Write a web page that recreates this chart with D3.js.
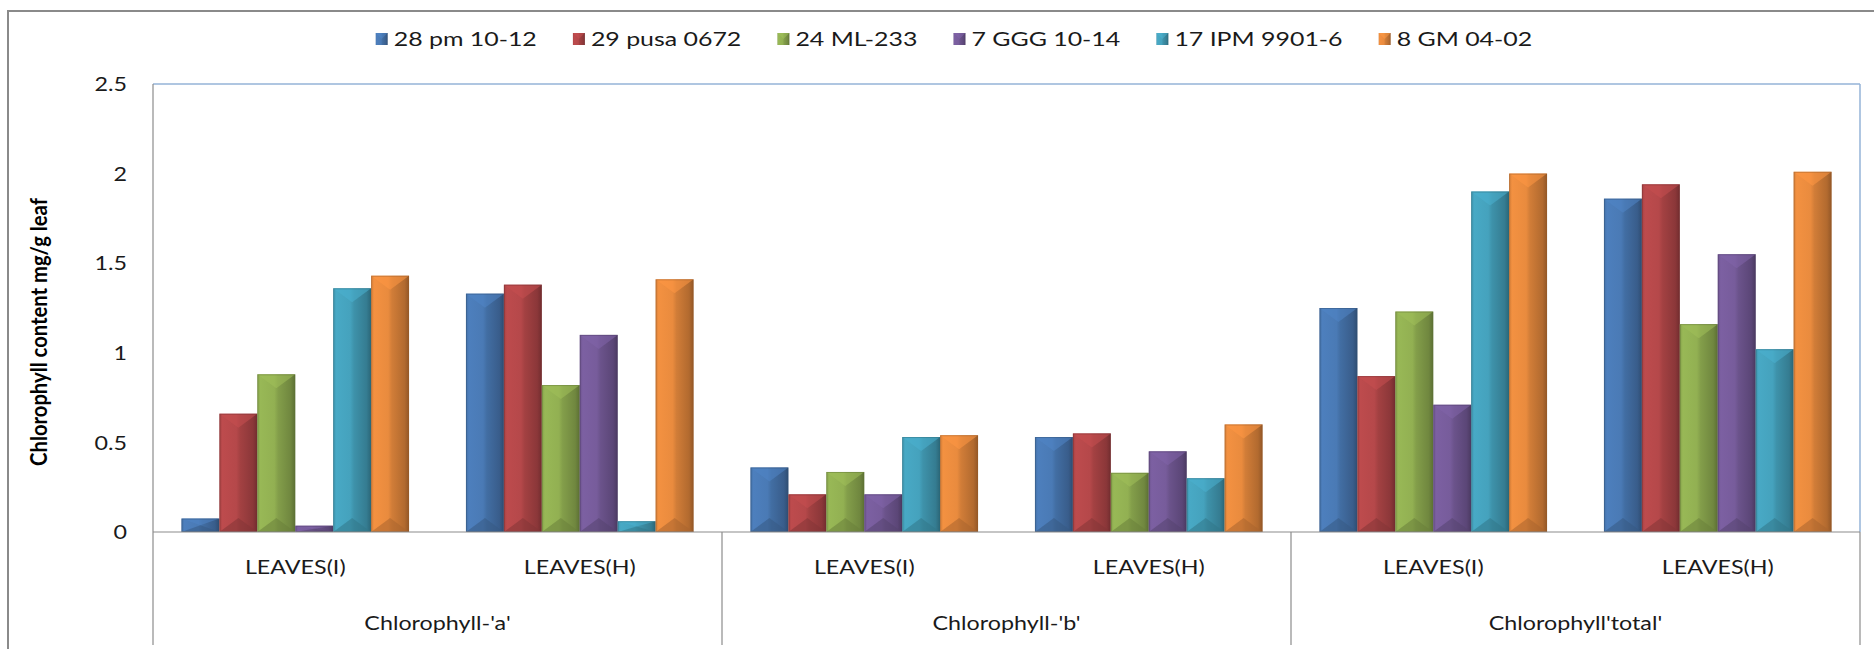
<!DOCTYPE html>
<html><head><meta charset="utf-8">
<script src="https://cdn.jsdelivr.net/npm/d3@7"></script>
<style>body{margin:0;background:#fff;} svg{display:block}</style>
</head><body>
<svg id="chart" width="1874" height="649"></svg>
<script>
// ---------- data ----------
const groups = ["Chlorophyll-'a'", "Chlorophyll-'b'", "Chlorophyll'total'"];
const subCategories = ["LEAVES(I)", "LEAVES(H)"];
const seriesNames = ["28 pm 10-12", "29 pusa 0672", "24 ML-233", "7 GGG 10-14", "17 IPM 9901-6", "8 GM 04-02"];
const s28pm   = [0.075, 1.33, 0.36, 0.53, 1.25, 1.86];
const s29pusa = [0.66, 1.38, 0.21, 0.55, 0.87, 1.94];
const s24ml   = [0.88, 0.82, 0.335, 0.33, 1.23, 1.16];
const s7ggg   = [0.035, 1.10, 0.21, 0.45, 0.71, 1.55];
const s17ipm  = [1.36, 0.06, 0.53, 0.30, 1.90, 1.02];
const s8gm    = [1.43, 1.41, 0.54, 0.60, 2.00, 2.01];
const yTicks = [0, 0.5, 1, 1.5, 2, 2.5];
const yTitle = "Chlorophyll content mg/g leaf";
const colors = ["#4a7ab5", "#b5484a", "#92b052", "#775c9b", "#45a2bd", "#e98b3e"];

const seriesValues = [s28pm, s29pusa, s24ml, s7ggg, s17ipm, s8gm];
const cats = [];
groups.forEach((g, gi) => subCategories.forEach((s, si) => cats.push({key: gi + "-" + si, group: g, sub: s, gi})));

// ---------- layout ----------
const W = 1874, H = 649;
const plot = {left: 153, right: 1860, top: 84, bottom: 532};
const axisBottom = 645;
const FONT = "Lato, 'Open Sans', sans-serif";
const FS = 19;

const svg = d3.select("#chart");
const defs = svg.append("defs");

// measure horizontal stretch factor
const probe = svg.append("text").attr("font-family", FONT).attr("font-size", FS).text("LEAVES(H)");
const sx = 112 / probe.node().getComputedTextLength();
probe.remove();

const x0 = d3.scaleBand().domain(cats.map(c => c.key)).range([plot.left, plot.right]).paddingInner(0.2).paddingOuter(0.1);
const x1 = d3.scaleBand().domain(d3.range(seriesNames.length)).range([0, x0.bandwidth()]).padding(0);
const y = d3.scaleLinear().domain([0, 2.5]).range([plot.bottom, plot.top]);

// gradients
colors.forEach((c, i) => {
  const g = defs.append("linearGradient").attr("id", "grad" + i).attr("x1", "0").attr("x2", "1").attr("y1", "0").attr("y2", "0");
  const base = d3.color(c);
  [[0, base.darker(0.25)], [0.08, base.brighter(0.12)], [0.45, base], [0.55, base.darker(0.3)], [0.88, base.darker(0.75)], [1, base.darker(1.3)]]
    .forEach(([o, col]) => g.append("stop").attr("offset", o).attr("stop-color", col.formatHex()));
});

// outer chart border
svg.append("rect").attr("x", 8).attr("y", 11).attr("width", W + 20).attr("height", H + 20)
  .attr("fill", "none").attr("stroke", "#8a8a8a").attr("stroke-width", 2);

// bars
function bevelBar(sel, x, yTop, w, h, i) {
  const c = d3.color(colors[i]);
  const b = Math.min(w * 0.38, h / 2, 14);
  sel.append("rect").attr("x", x).attr("y", yTop).attr("width", w).attr("height", h).attr("fill", `url(#grad${i})`);
  sel.append("path").attr("d", `M${x},${yTop}L${x + w},${yTop}L${x + w / 2},${yTop + b}Z`)
    .attr("fill", c.brighter(0.25).formatHex()).attr("fill-opacity", 0.55);
  sel.append("path").attr("d", `M${x},${yTop + h}L${x + w},${yTop + h}L${x + w / 2},${yTop + h - b}Z`)
    .attr("fill", c.darker(0.9).formatHex()).attr("fill-opacity", 0.55);
  sel.append("rect").attr("x", x + 0.5).attr("y", yTop + 0.5).attr("width", Math.max(0, w - 1)).attr("height", Math.max(0, h - 1))
    .attr("fill", "none").attr("stroke", c.darker(1.2).formatHex()).attr("stroke-opacity", 0.45).attr("stroke-width", 1);
}

const barG = svg.append("g");
cats.forEach((cat, ci) => {
  seriesValues.forEach((vals, si) => {
    const v = vals[ci];
    const bx = x0(cat.key) + x1(si);
    const by = y(v);
    bevelBar(barG.append("g"), bx, by, x1.bandwidth(), y(0) - by, si);
  });
});

// plot area border (top & right, bluish)
svg.append("line").attr("x1", plot.left).attr("x2", plot.right).attr("y1", plot.top).attr("y2", plot.top)
  .attr("stroke", "#95b3d7").attr("stroke-width", 1.5);
svg.append("line").attr("x1", plot.right).attr("x2", plot.right).attr("y1", plot.top).attr("y2", plot.bottom)
  .attr("stroke", "#95b3d7").attr("stroke-width", 1.5);

// axes
const AX = "#8c8c8c";
svg.append("line").attr("x1", plot.left).attr("x2", plot.left).attr("y1", plot.top).attr("y2", axisBottom).attr("stroke", AX).attr("stroke-width", 1.2);
svg.append("line").attr("x1", plot.left).attr("x2", plot.right).attr("y1", plot.bottom).attr("y2", plot.bottom).attr("stroke", AX).attr("stroke-width", 1.2);
const step = x0.step();
for (let k = 1; k <= groups.length; k++) {
  const xx = plot.left + k * subCategories.length * step;
  svg.append("line").attr("x1", xx).attr("x2", xx).attr("y1", plot.bottom).attr("y2", axisBottom).attr("stroke", AX).attr("stroke-width", 1.2);
}

function hText(x, yy, str, anchor, opts = {}) {
  return svg.append("text")
    .attr("transform", `translate(${x},${yy}) scale(${opts.sx || sx},1)`)
    .attr("text-anchor", anchor).attr("dominant-baseline", "central")
    .attr("font-family", FONT).attr("font-size", opts.size || FS).attr("font-weight", opts.weight || 400)
    .attr("fill", "#1a1a1a").text(str);
}

// y tick labels
yTicks.forEach(t => hText(127, y(t), d3.format("")(t), "end"));

// category labels
cats.forEach(cat => hText(x0(cat.key) + x0.bandwidth() / 2, 567, cat.sub, "middle"));
groups.forEach((g, gi) => {
  const gx = plot.left + (gi + 0.5) * subCategories.length * step;
  hText(gx, 623, g, "middle");
});

// y title
const tt = svg.append("text").attr("font-family", FONT).attr("font-size", FS).attr("font-weight", 700).text(yTitle);
const tl = tt.node().getComputedTextLength();
tt.attr("text-anchor", "middle").attr("dominant-baseline", "central").attr("fill", "#000")
  .attr("transform", `translate(38,332) rotate(-90) scale(${268 / tl},${sx})`);

// legend
const lsx = sx * 1.07;
const leg = svg.append("g");
const items = seriesNames.map((n, i) => {
  const t = svg.append("text").attr("font-family", FONT).attr("font-size", FS).text(n);
  const w = t.node().getComputedTextLength() * lsx; t.remove();
  return {n, i, w};
});
const sq = 12, gapSq = 6, spacing = 36;
const total = d3.sum(items, d => sq + gapSq + d.w) + spacing * (items.length - 1);
let lx = 954 - total / 2;
const ly = 39;
items.forEach(d => {
  leg.append("rect").attr("x", lx).attr("y", ly - sq / 2).attr("width", sq).attr("height", sq).attr("fill", `url(#grad${d.i})`);
  leg.append("path").attr("d", `M${lx},${ly - sq/2}L${lx + sq},${ly - sq/2}L${lx + sq/2},${ly}Z`).attr("fill", d3.color(colors[d.i]).brighter(0.3).formatHex()).attr("fill-opacity", 0.5);
  hText(lx + sq + gapSq, ly, d.n, "start", {sx: lsx});
  lx += sq + gapSq + d.w + spacing;
});
</script>
</body></html>
